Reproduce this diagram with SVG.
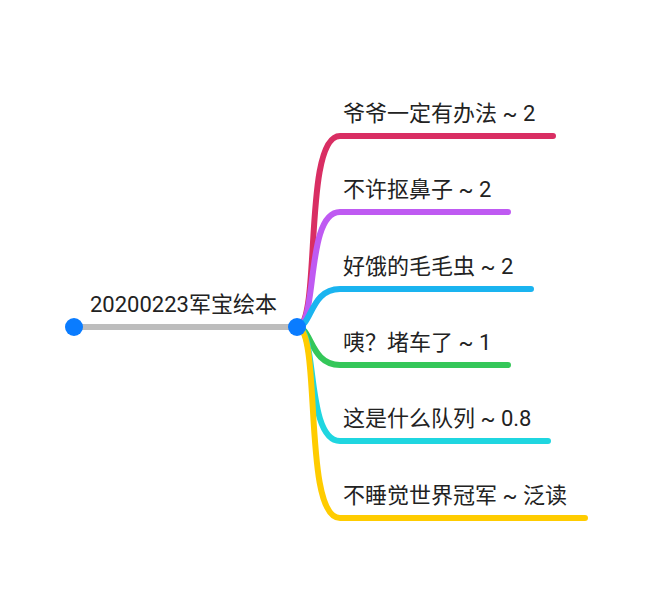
<svg xmlns="http://www.w3.org/2000/svg" width="660" height="594" viewBox="0 0 660 594">
<style>
.t{font-family:Roboto,"Noto Sans CJK SC",sans-serif;font-size:22px;fill:#222}
.b{fill:none;stroke-width:6;stroke-linecap:round}
</style>
<rect width="660" height="594" fill="#fff"/>
<g id="connectors">
<line x1="74" y1="327" x2="297" y2="327" stroke="#bdbdbd" stroke-width="6"/>
<path class="b" stroke="#d92e63" d="M297,327 C322,327 302,136 340,136 L553,136"/>
<path class="b" stroke="#bf5af2" d="M297,327 C318,327 305,212 340,212 L508,212"/>
<path class="b" stroke="#1ab4f0" d="M297,327 C312,327 310,289 340,289 L531,289"/>
<path class="b" stroke="#34c759" d="M297,327 C312,327 310,365 340,365 L508,365"/>
<path class="b" stroke="#1fd6e0" d="M297,327 C318,327 305,441 340,441 L548,441"/>
<path class="b" stroke="#ffcc00" d="M297,327 C322,327 302,518 340,518 L585,518"/>
</g>
<g id="root">
<circle cx="74" cy="327" r="9" fill="#0a7cff"/>
<circle cx="297" cy="327" r="9" fill="#0a7cff"/>
<text class="t" x="90" y="312">20200223军宝绘本</text>
</g>
<g id="n1"><text class="t" x="343" y="121">爷爷一定有办法 ~ 2</text></g>
<g id="n2"><text class="t" x="343" y="197">不许抠鼻子 ~ 2</text></g>
<g id="n3"><text class="t" x="343" y="274">好饿的毛毛虫 ~ 2</text></g>
<g id="n4"><text class="t" x="343" y="350">咦？堵车了 ~ 1</text></g>
<g id="n5"><text class="t" x="343" y="426">这是什么队列 ~ 0.8</text></g>
<g id="n6"><text class="t" x="343" y="503">不睡觉世界冠军 ~ 泛读</text></g>
</svg>
